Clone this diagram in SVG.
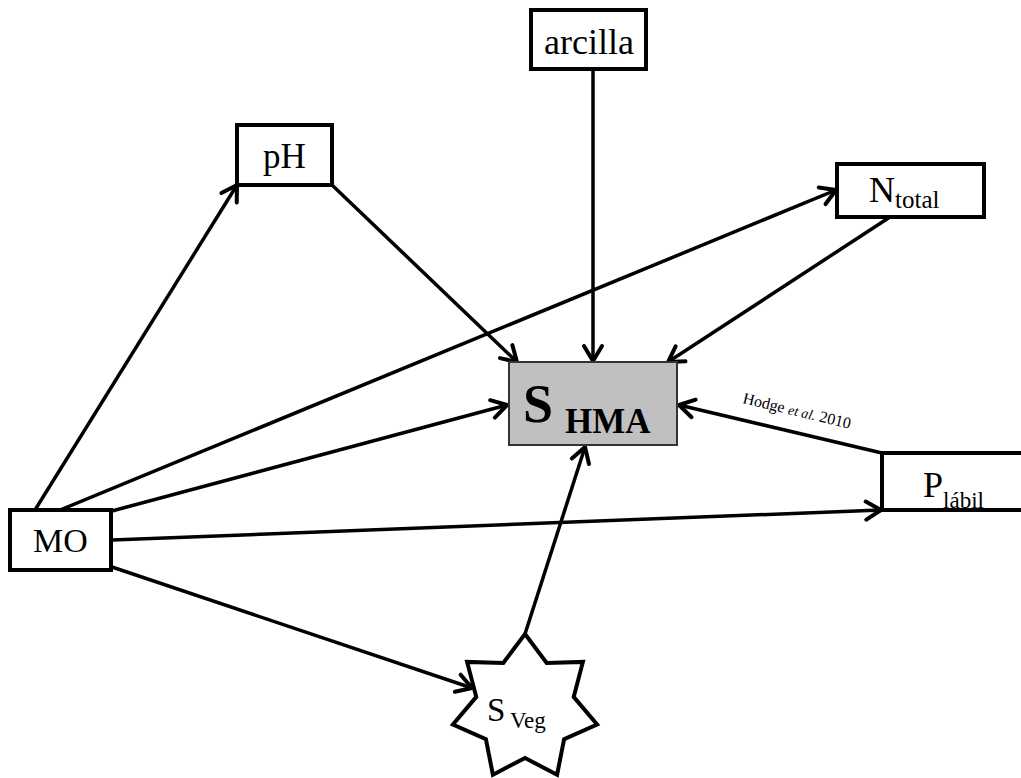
<svg xmlns="http://www.w3.org/2000/svg" width="1021" height="778" viewBox="0 0 1021 778">
<style>
.box{fill:#fff;stroke:#000;stroke-width:4}
.edge{stroke:#000;stroke-width:3.5;fill:none}
</style>
<defs>
<marker id="arr" markerUnits="userSpaceOnUse" markerWidth="30" markerHeight="30" refX="0" refY="0" viewBox="-20 -15 30 30" orient="auto">
<path d="M-15,-9 L0,0 L-15,9" fill="none" stroke="#000" stroke-width="4" stroke-linecap="round" stroke-linejoin="round"/>
</marker>
</defs>
<rect width="1021" height="778" fill="#fff"/>
<g id="connectors">
<line class="edge" x1="35" y1="510" x2="237" y2="185" marker-end="url(#arr)"/>
<line class="edge" x1="60" y1="510" x2="836" y2="190" marker-end="url(#arr)"/>
<line class="edge" x1="112" y1="511" x2="507" y2="405" marker-end="url(#arr)"/>
<line class="edge" x1="112" y1="540" x2="881" y2="510" marker-end="url(#arr)"/>
<line class="edge" x1="112" y1="567" x2="472" y2="688" marker-end="url(#arr)"/>
<line class="edge" x1="332" y1="185" x2="517" y2="362" marker-end="url(#arr)"/>
<line class="edge" x1="593" y1="70" x2="593" y2="361" marker-end="url(#arr)"/>
<line class="edge" x1="890" y1="217" x2="668" y2="362" marker-end="url(#arr)"/>
<line class="edge" x1="882" y1="453" x2="679" y2="405" marker-end="url(#arr)"/>
<line class="edge" x1="525" y1="634" x2="585" y2="447" marker-end="url(#arr)"/>
<text font-family="Liberation Serif" font-size="16" transform="translate(742,403) rotate(13.5)">Hodge <tspan font-style="italic" font-size="14">et al.</tspan> 2010</text>
</g>
<g id="arcilla">
<rect class="box" x="531" y="10" width="115" height="59"/>
<text font-family="Liberation Serif" x="589" y="54" font-size="36" text-anchor="middle">arcilla</text>
</g>
<g id="pH">
<rect class="box" x="237" y="125" width="95" height="60"/>
<text font-family="Liberation Serif" x="284.5" y="168" font-size="35" text-anchor="middle">pH</text>
</g>
<g id="Ntotal">
<rect class="box" x="837" y="164" width="147" height="53"/>
<text font-family="Liberation Serif" x="869" y="202" font-size="36">N<tspan font-size="25" dy="6">total</tspan></text>
</g>
<g id="SHMA">
<rect x="509" y="362" width="168" height="83" fill="#c0c0c0" stroke="#333" stroke-width="2"/>
<text font-family="Liberation Serif" x="523" y="422" font-size="54" font-weight="bold">S</text>
<text font-family="Liberation Serif" x="565" y="433" font-size="35" font-weight="bold">HMA</text>
</g>
<g id="Plabil">
<rect class="box" x="882" y="453" width="145" height="57"/>
<text font-family="Liberation Serif" x="923" y="497" font-size="36">P<tspan font-size="23" dy="11">lábil</tspan></text>
</g>
<g id="MO">
<rect class="box" x="10" y="510" width="101" height="60"/>
<text font-family="Liberation Serif" x="60.5" y="552" font-size="34" text-anchor="middle">MO</text>
</g>
<g id="SVeg">
<polygon points="525,634 546.7,662.9 582.9,661.9 573.7,696.9 597.1,724.5 564.1,739.2 557.1,774.7 525,758 492.9,774.7 485.9,739.2 452.9,724.5 476.3,696.9 467.1,661.9 503.3,662.9" fill="#fff" stroke="#000" stroke-width="4" stroke-linejoin="miter"/>
<text font-family="Liberation Serif" x="487" y="721" font-size="33">S</text>
<text font-family="Liberation Serif" x="510" y="728" font-size="23">Veg</text>
</g>
</svg>
